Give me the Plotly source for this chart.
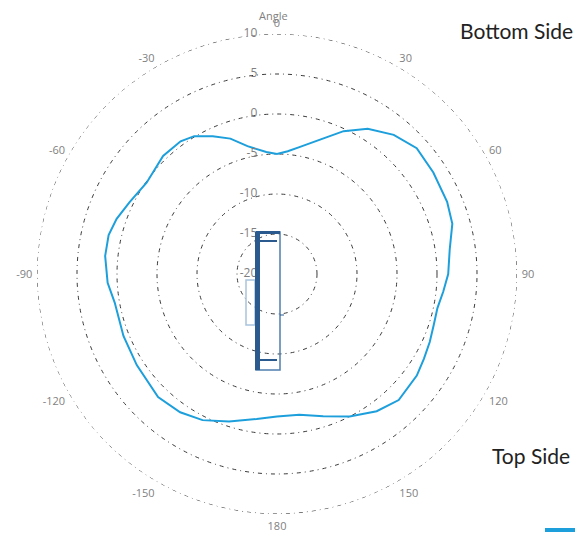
import plotly.graph_objects as go

# ---- data ----
theta_deg = [0, 5, 10, 18, 25, 32, 40, 48, 57, 67, 74, 82, 90, 96, 102, 108, 114, 120, 126,
             136, 144, 153, 162, 171, 180, 188, 198, 207, 215, 224, 237, 248, 260, 267, 276,
             283, 289, 296, 305, 316, 324, 329, 335, 341, 347, 355, 360]
gain_db = [-5.0, -4.6, -3.9, -2.3, -0.3, 1.4, 2.7, 3.5, 3.3, 3.1, 2.8, 1.8, 1.4, 0.9, 0.5, 0.6,
           0.9, 1.2, 1.6, 1.9, 1.2, 0.0, -1.3, -2.2, -2.2, -1.7, -0.6, 0.5, 1.1, 1.4, 0.9, 0.7,
           0.6, 1.2, 1.6, 1.6, 1.2, 0.5, -0.1, 0.5, 0.5, 0.1, -1.0, -2.1, -3.6, -4.7, -5.0]
angle_tickvals = [0, 30, 60, 90, 120, 150, 180, 210, 240, 270, 300, 330]
angle_ticktext = ["0", "30", "60", "90", "120", "150", "180", "-150", "-120", "-90", "-60", "-30"]
radial_tickvals = [-20, -15, -10, -5, 0, 5, 10]
radial_ticktext = ["-20", "-15", "-10", "-5", "0", "5", "10"]
outer_ring_theta = list(range(0, 361, 2))

W, H = 577, 533
cx, cy, R = 277, 274, 240  # polar centre / radius in pixels
gray = "#7f7f7f"
grid_col = "#3a3a3a"
grid_dash = "4px,4px,1px,4px"

fig = go.Figure()
# outer grid ring (the range edge is not drawn as a grid line by plotly)
fig.add_trace(go.Scatterpolar(
    r=[radial_tickvals[-1]] * len(outer_ring_theta), theta=outer_ring_theta, mode="lines",
    line=dict(color=grid_col, width=1, dash=grid_dash), showlegend=False, hoverinfo="skip",
))
fig.add_trace(go.Scatterpolar(
    r=gain_db, theta=theta_deg, mode="lines",
    line=dict(color="#1d9fdc", width=2), showlegend=False,
))
# radial tick labels, placed left of the 0-degree axis
fig.add_trace(go.Scatterpolar(
    r=radial_tickvals, theta=[0] * len(radial_tickvals), mode="markers+text",
    text=radial_ticktext, textposition="middle left",
    marker=dict(size=30, color="rgba(0,0,0,0)"),
    textfont=dict(color=gray, size=12, family="Open Sans"),
    showlegend=False, hoverinfo="skip",
))

fig.update_layout(
    width=W, height=H,
    margin=dict(l=0, r=0, t=0, b=0),
    paper_bgcolor="white",
    font=dict(family="Open Sans", color=gray, size=11),
    polar=dict(
        domain=dict(x=[(cx - R) / W, (cx + R) / W], y=[1 - (cy + R) / H, 1 - (cy - R) / H]),
        bgcolor="white",
        angularaxis=dict(
            rotation=90, direction="clockwise",
            tickmode="array", tickvals=angle_tickvals, ticktext=angle_ticktext,
            showgrid=False, showline=False,
            ticks="outside", ticklen=2, tickcolor="rgba(0,0,0,0)",
            tickfont=dict(color=gray, size=11),
        ),
        radialaxis=dict(
            range=[-20, 10], tickmode="array", tickvals=radial_tickvals,
            angle=90, showticklabels=False,
            showline=False, ticks="",
            gridcolor=grid_col, griddash=grid_dash, gridwidth=1,
        ),
    ),
)

# device outline at the centre (decorative)
def px2paper(x, y):
    return x / W, 1 - y / H

dark = "#2b5a8e"
light = "#a9c4de"
shapes = []
def rect(x0, y0, x1, y1, color, width):
    a, b = px2paper(x0, y0)
    c, d = px2paper(x1, y1)
    shapes.append(dict(type="rect", xref="paper", yref="paper", x0=a, y0=d, x1=c, y1=b,
                       line=dict(color=color, width=width)))
def line(x0, y0, x1, y1, color, width):
    a, b = px2paper(x0, y0)
    c, d = px2paper(x1, y1)
    shapes.append(dict(type="line", xref="paper", yref="paper", x0=a, y0=b, x1=c, y1=d,
                       line=dict(color=color, width=width)))

rect(246, 280, 255, 325, light, 1.5)
rect(256, 232, 280, 370, "#4f7fae", 1.5)
line(257.5, 232, 257.5, 370, dark, 5)
line(256, 232.5, 280, 232.5, dark, 3)
line(256, 241, 277, 241, dark, 2)
line(256, 360, 277, 360, dark, 2)
line(280, 315, 284, 315, dark, 1)
# legend swatch bottom-right
line(545, 530, 575, 530, "#1d9fdc", 4)

fig.update_layout(shapes=shapes)

fig.add_annotation(text="Angle", x=273 / W, y=1 - 15 / H, xref="paper", yref="paper",
                   xanchor="center", yanchor="middle",
                   showarrow=False, font=dict(color=gray, size=11))
fig.add_annotation(text="Bottom Side", x=575 / W, y=1 - 30 / H, xref="paper", yref="paper",
                   xanchor="right", yanchor="middle", showarrow=False,
                   font=dict(family="Lato", color="#222222", size=21))
fig.add_annotation(text="Top Side", x=572 / W, y=1 - 455 / H, xref="paper", yref="paper",
                   xanchor="right", yanchor="middle", showarrow=False,
                   font=dict(family="Lato", color="#222222", size=21))

fig.write_html("out.html", post_script="document.body.style.margin='0px';",
               config={"displayModeBar": False})
